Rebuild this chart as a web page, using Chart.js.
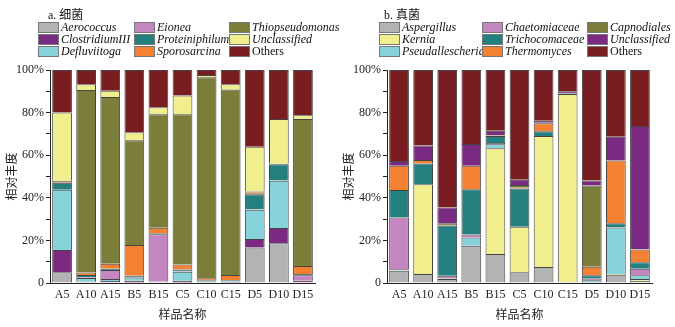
<!DOCTYPE html>
<html>
<head>
<meta charset="utf-8">
<script src="https://cdn.jsdelivr.net/npm/chart.js@4/dist/chart.umd.min.js"></script>
<style>
  body { margin: 0; background: #fff; }
  #wrap { position: relative; width: 675px; height: 327px; overflow: hidden; }
  .panel { position: absolute; top: 0; height: 327px; }
  .ttl { position: absolute; top: 5px; font: 12px "Liberation Serif", "Noto Sans CJK SC", serif; color: #111; }
  .lg { position: absolute; height: 12px; white-space: nowrap; font: italic 12px "Liberation Serif", serif; color: #111; line-height: 12px; }
  .lg i { display: inline-block; width: 19px; height: 9px; border: 1px solid #777; vertical-align: top; margin-top: 1px; margin-right: 2px; }
  .lg.up { font-style: normal; }
</style>
</head>
<body>
<div id="wrap">
  <div class="panel" style="left:0;width:337px"><canvas id="bact" width="337" height="327"></canvas></div>
  <div class="panel" style="left:337px;width:338px"><canvas id="fung" width="338" height="327"></canvas></div>
  <div class="ttl" style="left:48px">a. 细菌</div>
  <div class="ttl" style="left:384px">b. 真菌</div>
</div>
<script>
// sample names
const samples = ['A5', 'A10', 'A15', 'B5', 'B15', 'C5', 'C10', 'C15', 'D5', 'D10', 'D15'];
const yTicks = [0, 20, 40, 60, 80, 100];

// a. bacteria (relative abundance, %), stacked bottom -> top
const aerococcus      = [5.0, 0.3, 0.3, 0.2, 0.3, 0.2, 0.1, 0.1, 16.7, 18.7, 0.3];
const clostridiumIII  = [10.5, 0.3, 0.6, 0.8, 0.2, 0.8, 0.1, 0.3, 3.9, 7.1, 0.6];
const defluviitoga    = [28.3, 1.8, 1.0, 1.6, 0.2, 4.3, 0.5, 0.2, 13.8, 22.2, 0.1];
const eionea          = [0.0, 0.3, 4.2, 0.2, 22.2, 0.2, 0.1, 0.1, 0.2, 0.1, 2.6];
const proteiniphilum  = [3.3, 1.0, 0.6, 0.6, 0.4, 0.8, 0.5, 0.6, 7.1, 7.7, 0.6];
const sporosarcina    = [0.3, 1.2, 2.3, 14.4, 2.6, 2.4, 0.9, 2.5, 0.8, 0.1, 3.8];
const thiopseudomonas = [0.6, 85.7, 78.3, 49.2, 53.3, 70.5, 94.4, 87.1, 0.5, 0.1, 69.0];
const unclassifiedB   = [32.0, 2.7, 2.9, 3.8, 3.3, 8.8, 1.1, 2.4, 21.0, 21.0, 1.8];
const othersB         = [20.0, 6.7, 9.8, 29.2, 17.5, 12.0, 2.3, 6.7, 36.0, 23.0, 21.2];

// b. fungi (relative abundance, %), stacked bottom -> top
const aspergillus      = [5.8, 4.2, 1.9, 17.5, 13.6, 5.1, 7.5, 0.3, 0.5, 3.9, 1.0];
const kernia           = [0.1, 42.2, 0.2, 0.0, 49.7, 21.3, 61.5, 88.4, 0.0, 0.3, 0.9];
const pseudallescheria = [0.5, 0.0, 0.3, 3.9, 1.8, 0.0, 0.0, 0.0, 0.8, 21.9, 1.7];
const chaetomiaceae    = [24.4, 0.0, 1.0, 1.4, 0.6, 0.0, 0.0, 0.0, 0.8, 0.1, 3.1];
const trichocomaceae   = [12.9, 9.7, 23.6, 21.2, 3.3, 18.0, 2.3, 0.3, 1.5, 1.8, 3.0];
const thermomyces      = [11.3, 1.7, 0.2, 11.0, 0.2, 0.3, 3.7, 0.0, 4.0, 29.5, 6.0];
const capnodiales      = [0.1, 0.0, 0.8, 0.1, 0.3, 1.3, 0.2, 0.2, 38.2, 0.0, 0.2];
const unclassifiedF    = [2.2, 6.7, 7.5, 10.1, 2.0, 2.5, 1.0, 0.8, 2.3, 11.2, 57.8];
const othersF          = [42.7, 35.5, 64.5, 34.8, 28.5, 51.5, 23.8, 10.0, 51.9, 31.3, 26.3];

const bactNames = ['Aerococcus', 'ClostridiumIII', 'Defluviitoga', 'Eionea', 'Proteiniphilum',
                   'Sporosarcina', 'Thiopseudomonas', 'Unclassified', 'Others'];
const bactData = [aerococcus, clostridiumIII, defluviitoga, eionea, proteiniphilum,
                  sporosarcina, thiopseudomonas, unclassifiedB, othersB];
const bactColors = ['#b3b3b3', '#7b2a82', '#86d3dc', '#c486c0', '#24807f',
                    '#f38131', '#7c7c3b', '#f1ee8e', '#7a1d20'];

const fungNames = ['Aspergillus', 'Kernia', 'Pseudallescheria', 'Chaetomiaceae', 'Trichocomaceae',
                   'Thermomyces', 'Capnodiales', 'Unclassified', 'Others'];
const fungData = [aspergillus, kernia, pseudallescheria, chaetomiaceae, trichocomaceae,
                  thermomyces, capnodiales, unclassifiedF, othersF];
const fungColors = ['#b3b3b3', '#f1ee8e', '#86d3dc', '#c486c0', '#24807f',
                    '#f38131', '#7c7c3b', '#7b2a82', '#7a1d20'];

const serif = '"Liberation Serif", "Times New Roman", serif';
const cjk = '"Noto Sans CJK SC", sans-serif';

function buildLegend(names, colors, colX, rowY) {
    const wrap = document.getElementById('wrap');
    names.forEach((name, i) => {
        const d = document.createElement('div');
        d.className = 'lg' + (name === 'Others' ? ' up' : '');
        d.style.left = colX[Math.floor(i / 3)] + 'px';
        d.style.top = rowY[i % 3] + 'px';
        d.innerHTML = '<i style="background:' + colors[i] + '"></i>' + name;
        wrap.appendChild(d);
    });
}

function makeChart(id, names, data, colors, padRight) {
    const ctx = document.getElementById(id).getContext('2d');
    return new Chart(ctx, {
        type: 'bar',
        data: {
            labels: samples,
            datasets: names.map((n, i) => ({
                label: n,
                data: data[i],
                backgroundColor: colors[i],
                borderColor: 'rgba(35,35,35,0.85)',
                borderWidth: 1,
                categoryPercentage: 1.0,
                barPercentage: 0.82
            }))
        },
        options: {
            responsive: false,
            animation: false,
            layout: { padding: { left: 0, right: padRight, top: 70, bottom: 0 } },
            plugins: { legend: { display: false }, tooltip: { enabled: false } },
            scales: {
                x: {
                    stacked: true,
                    grid: { display: false, drawTicks: false },
                    border: { display: true, color: '#222', width: 1 },
                    ticks: { color: '#222', padding: 5, maxRotation: 0, minRotation: 0, autoSkip: false,
                             font: { family: serif, size: 12 } },
                    title: { display: true, text: '样品名称', color: '#222',
                             font: { family: cjk, size: 12 }, padding: { top: 0, bottom: 5 } },
                    afterFit: s => { s.height = 44; }
                },
                y: {
                    stacked: true,
                    min: 0,
                    max: 100,
                    grid: { drawOnChartArea: false, tickLength: 4, color: '#222' },
                    border: { display: true, color: '#222', width: 1 },
                    ticks: {
                        stepSize: 10,
                        padding: 2,
                        color: '#222',
                        font: { family: serif, size: 12 },
                        callback: v => yTicks.includes(v) ? (v === 0 ? '0' : v + '%') : ''
                    },
                    title: { display: true, text: '相对丰度', color: '#222',
                             font: { family: cjk, size: 12 }, padding: { top: 4, bottom: 4 } },
                    afterFit: s => { s.width = 50; }
                }
            }
        }
    });
}

makeChart('bact', bactNames, bactData, bactColors, 22);
makeChart('fung', fungNames, fungData, fungColors, 23);
buildLegend(bactNames, bactColors, [38, 134, 229], [21, 33, 45]);
buildLegend(fungNames, fungColors, [379, 482, 587], [21, 33, 45]);
</script>
</body>
</html>
